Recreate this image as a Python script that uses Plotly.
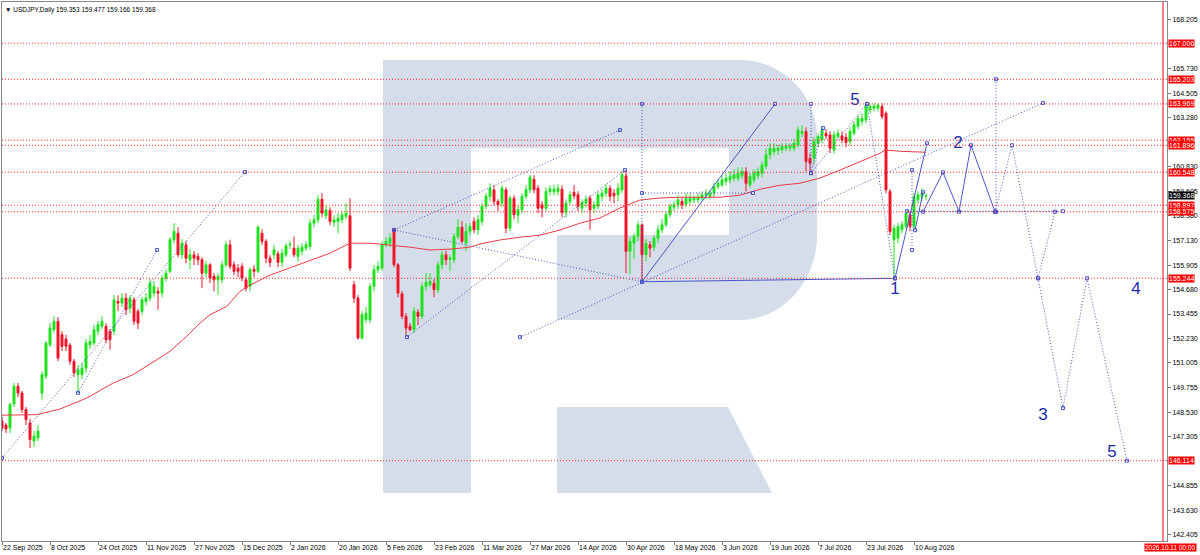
import plotly.graph_objects as go

# USDJPY daily bars: bar 0 = 22 Sep 2025 ... bar 231 = 13 Aug 2026
opens = [
    148.10, 147.90, 147.75, 148.95, 149.84, 149.50, 148.67, 148.00, 147.10, 147.25,
    149.50, 150.34, 151.92, 152.67, 153.09, 152.42, 152.20, 151.90, 151.09, 150.42,
    150.42, 150.75, 151.92, 152.00, 152.59, 152.84, 152.84, 152.59, 152.59, 154.09,
    154.00, 154.25, 153.75, 154.17, 153.59, 153.59, 154.09, 154.25, 154.50, 154.59,
    154.50, 155.25, 155.59, 157.17, 157.50, 156.42, 156.92, 156.17, 156.42, 156.34,
    156.17, 155.50, 155.92, 155.34, 155.17, 155.17, 155.92, 156.92, 155.92, 155.75,
    155.84, 155.17, 154.84, 155.70, 155.59, 157.50, 157.09, 156.25, 156.42, 156.47,
    156.04, 156.42, 156.92, 156.75, 156.34, 156.59, 156.75, 156.84, 158.00, 158.17,
    159.20, 158.37, 158.64, 158.04, 158.09, 158.17, 158.34, 158.37, 154.92, 154.25,
    152.25, 153.17, 153.17, 154.84, 155.67, 155.75, 156.92, 157.00, 157.67, 155.92,
    154.47, 153.34, 152.84, 152.67, 153.54, 153.34, 154.84, 154.92, 155.00, 154.67,
    155.92, 156.42, 156.20, 156.17, 157.34, 157.80, 157.00, 157.59, 158.09, 157.67,
    158.09, 158.84, 159.34, 159.67, 159.09, 159.00, 159.67, 157.75, 159.25, 158.40,
    158.67, 159.34, 159.67, 160.20, 159.75, 158.92, 158.75, 159.59, 159.59, 159.59,
    159.70, 158.54, 159.09, 159.54, 159.42, 158.75, 159.00, 159.25, 158.75, 158.84,
    159.34, 159.50, 159.75, 159.50, 159.42, 159.67, 160.37, 156.59, 157.00, 157.34,
    157.92, 156.42, 156.92, 156.80, 157.25, 157.67, 157.92, 158.42, 158.80, 158.92,
    159.09, 158.95, 159.09, 159.17, 159.17, 159.25, 159.40, 159.34, 159.50, 159.84,
    159.92, 160.09, 160.17, 160.25, 160.25, 160.37, 160.59, 159.92, 160.17, 160.37,
    160.50, 160.84, 161.42, 161.59, 161.64, 161.67, 161.75, 161.75, 161.75, 161.92,
    162.50, 162.59, 161.25, 161.25, 162.00, 162.17, 162.50, 162.42, 161.67, 162.34,
    162.37, 162.30, 162.09, 162.50, 162.84, 163.09, 163.17, 163.67, 163.75, 163.75,
    163.84, 163.50, 159.59, 157.17, 157.25, 157.67, 157.84, 158.42, 157.84, 159.17,
    159.34, 159.353,
]
highs = [
    148.30, 148.00, 149.00, 150.00, 150.00, 149.60, 148.80, 148.20, 147.60, 147.90,
    150.60, 152.10, 153.00, 153.34, 153.30, 152.60, 152.40, 152.00, 151.20, 150.90,
    151.00, 152.20, 152.40, 152.90, 153.10, 153.34, 153.00, 152.70, 154.40, 154.40,
    154.50, 154.50, 154.40, 154.30, 153.70, 154.30, 154.50, 155.20, 155.10, 154.80,
    155.40, 155.70, 157.30, 158.00, 157.80, 157.20, 157.10, 156.70, 156.60, 156.50,
    156.30, 156.10, 156.00, 155.50, 155.50, 156.10, 157.10, 157.17, 156.10, 155.95,
    156.00, 155.30, 155.80, 155.90, 157.90, 157.70, 157.20, 156.40, 156.90, 156.60,
    156.70, 157.00, 157.10, 157.34, 156.90, 157.00, 157.10, 158.20, 158.40, 159.40,
    159.50, 158.90, 158.80, 158.40, 158.50, 158.60, 159.00, 159.25, 155.10, 154.40,
    153.60, 153.80, 155.00, 155.90, 156.10, 157.10, 157.30, 157.50, 157.75, 156.00,
    154.60, 153.50, 153.00, 153.80, 153.70, 155.00, 155.50, 155.50, 155.20, 156.10,
    156.60, 156.60, 156.40, 157.50, 158.20, 158.10, 158.00, 158.00, 158.30, 158.40,
    159.00, 159.50, 160.00, 159.90, 159.20, 159.90, 159.80, 159.40, 159.40, 158.90,
    159.50, 159.90, 160.42, 160.40, 159.90, 159.10, 159.80, 159.90, 159.90, 159.95,
    159.90, 159.20, 159.60, 159.90, 159.60, 159.20, 159.40, 159.40, 159.10, 159.60,
    159.70, 159.95, 159.90, 159.70, 160.00, 160.60, 160.67, 157.30, 157.50, 158.10,
    158.00, 157.20, 157.10, 157.40, 157.90, 158.20, 158.60, 159.00, 159.10, 159.40,
    159.30, 159.50, 159.50, 159.40, 159.50, 159.60, 159.70, 159.65, 160.00, 160.20,
    160.40, 160.50, 160.60, 160.70, 160.80, 160.80, 160.80, 160.50, 160.70, 160.80,
    161.10, 161.75, 162.00, 162.00, 161.90, 162.00, 162.00, 162.00, 162.20, 162.84,
    162.90, 162.80, 161.50, 162.30, 162.50, 162.84, 162.70, 162.60, 162.60, 162.70,
    162.60, 162.50, 162.80, 163.10, 163.40, 163.50, 164.00, 164.00, 164.00, 164.00,
    164.00, 163.60, 159.70, 157.90, 158.00, 158.10, 158.67, 158.60, 159.50, 159.60,
    159.75, 159.477,
]
lows = [
    147.60, 147.50, 147.50, 148.80, 149.30, 148.50, 147.90, 146.75, 146.80, 147.10,
    149.17, 150.20, 151.80, 152.50, 151.10, 151.60, 151.60, 150.90, 150.30, 149.50,
    150.20, 150.50, 151.70, 151.90, 152.40, 152.70, 152.00, 151.67, 152.40, 153.60,
    153.80, 153.40, 153.50, 152.90, 152.70, 153.40, 153.90, 154.10, 154.30, 153.67,
    154.30, 155.10, 155.50, 157.00, 156.30, 156.20, 156.00, 155.70, 155.90, 155.90,
    154.75, 155.30, 155.00, 154.59, 154.42, 155.00, 155.80, 155.70, 155.40, 155.30,
    155.10, 154.59, 154.60, 155.30, 155.50, 156.90, 156.00, 155.80, 156.20, 155.80,
    155.80, 156.30, 156.70, 156.30, 156.10, 156.40, 156.60, 156.70, 157.80, 158.00,
    158.30, 158.20, 157.90, 157.80, 157.50, 158.00, 158.20, 155.60, 154.00, 152.17,
    152.17, 153.00, 153.00, 154.60, 155.50, 155.60, 156.80, 156.80, 155.80, 154.30,
    153.20, 152.34, 152.59, 152.50, 152.90, 153.20, 154.60, 154.80, 154.30, 154.50,
    155.70, 155.90, 155.60, 156.00, 157.20, 157.00, 156.60, 157.40, 157.50, 157.40,
    157.90, 158.70, 159.10, 158.90, 158.60, 158.80, 157.50, 157.60, 158.20, 158.00,
    158.50, 159.20, 159.50, 159.50, 158.50, 158.30, 158.60, 159.40, 159.40, 159.40,
    158.30, 158.30, 158.90, 159.20, 158.60, 158.50, 158.80, 157.67, 158.50, 158.70,
    159.10, 159.30, 159.10, 159.00, 159.10, 159.50, 155.50, 155.45, 156.20, 157.10,
    155.20, 156.10, 156.30, 156.60, 157.00, 157.50, 157.80, 158.30, 158.60, 158.70,
    158.70, 158.80, 158.90, 159.00, 159.00, 159.10, 159.20, 159.20, 159.30, 159.70,
    159.80, 159.90, 160.00, 160.10, 160.10, 160.20, 159.59, 159.80, 160.00, 160.20,
    160.30, 160.70, 161.20, 161.40, 161.40, 161.50, 161.60, 161.60, 161.60, 161.80,
    162.30, 160.59, 160.60, 161.00, 161.80, 162.00, 162.20, 161.50, 161.50, 162.20,
    162.00, 161.80, 161.90, 162.40, 162.70, 162.90, 163.00, 163.50, 163.60, 163.60,
    163.20, 159.50, 157.40, 155.24, 157.00, 157.50, 157.70, 157.60, 157.70, 159.00,
    159.10, 159.166,
]
closes = [
    147.75, 147.70, 148.92, 149.84, 149.50, 148.67, 148.17, 147.17, 147.34, 147.59,
    150.42, 152.00, 152.75, 153.09, 151.25, 151.84, 151.84, 151.09, 150.50, 150.67,
    150.75, 152.00, 152.09, 152.67, 152.92, 153.09, 152.17, 152.17, 154.17, 154.00,
    154.25, 153.67, 154.25, 153.09, 153.00, 154.17, 154.25, 155.00, 154.84, 154.50,
    155.25, 155.50, 157.17, 157.59, 156.42, 157.00, 156.25, 156.42, 156.25, 156.17,
    155.50, 155.92, 155.25, 155.17, 155.34, 155.92, 156.92, 155.84, 155.59, 155.59,
    155.25, 154.75, 155.67, 155.59, 157.80, 157.09, 156.25, 156.04, 156.67, 156.04,
    156.50, 156.87, 156.95, 156.42, 156.75, 156.80, 156.92, 158.00, 158.17, 159.20,
    158.50, 158.67, 158.09, 158.17, 158.25, 158.42, 158.50, 155.75, 154.25, 152.25,
    153.42, 153.50, 154.84, 155.67, 155.84, 156.92, 157.09, 157.25, 155.92, 154.50,
    153.34, 152.75, 152.67, 153.59, 153.34, 154.84, 155.04, 155.09, 154.67, 155.92,
    156.42, 156.17, 156.25, 157.34, 157.80, 157.09, 157.59, 157.84, 157.67, 158.17,
    158.84, 159.34, 159.75, 159.09, 158.92, 159.75, 157.75, 159.25, 158.42, 158.67,
    159.34, 159.67, 160.30, 159.67, 158.75, 158.75, 159.59, 159.72, 159.70, 159.75,
    158.54, 159.00, 159.42, 159.37, 158.84, 159.04, 159.20, 158.67, 158.92, 159.42,
    159.50, 159.75, 159.34, 159.37, 159.75, 160.42, 156.59, 157.09, 157.34, 157.92,
    156.42, 157.00, 156.75, 157.25, 157.67, 157.92, 158.42, 158.84, 158.92, 159.17,
    158.92, 159.25, 159.25, 159.25, 159.30, 159.42, 159.50, 159.50, 159.84, 160.00,
    160.17, 160.25, 160.34, 160.42, 160.50, 160.59, 160.00, 160.34, 160.50, 160.59,
    160.92, 161.42, 161.75, 161.75, 161.75, 161.84, 161.84, 161.84, 162.00, 162.67,
    162.59, 161.09, 161.00, 162.09, 162.34, 162.67, 162.37, 161.75, 162.42, 162.50,
    162.17, 162.04, 162.59, 162.92, 163.25, 163.25, 163.92, 163.84, 163.87, 163.92,
    163.34, 159.67, 157.59, 157.75, 157.84, 157.92, 158.50, 157.84, 159.34, 159.42,
    159.50, 159.368,
]

# red moving average at a few bars
ma_bar = [0, 8.7, 14.5, 21.2, 27.8, 32.8, 38.7, 42, 46.2, 49.5, 52, 56.2, 59.5, 62, 67,
          72, 77, 82, 87, 92, 97, 102, 107, 112, 117, 119.5, 124.5, 129.5, 134.5, 139.5,
          144.5, 149.5, 154.5, 159.5, 164.5, 169.5, 179.5, 184.5, 189.5, 194.5, 199.5,
          204.5, 209.5, 214.5, 219.5, 220.75, 224.5, 231]
ma_value = [148.39, 148.42, 148.70, 149.25, 150.00, 150.42, 151.17, 151.59, 152.34, 153.00,
            153.42, 153.84, 154.59, 154.90, 155.40, 155.76, 156.16, 156.50, 157.00, 157.00,
            156.90, 156.80, 156.66, 156.70, 156.80, 156.96, 157.16, 157.30, 157.40, 157.66,
            158.00, 158.26, 158.76, 159.16, 159.26, 159.30, 159.30, 159.40, 159.70, 159.90,
            160.00, 160.26, 160.66, 161.06, 161.50, 161.66, 161.60, 161.55]

# horizontal levels
levels = [167.006, 165.203, 163.969, 162.155, 161.896, 160.548, 158.897, 158.575, 155.244, 146.114]
last_price = 159.368
title_text = "USDJPY,Daily 159.353 159.477 159.166 159.368"

# time axis: a label every 12 bars
tick_dates = ["22 Sep 2025", "8 Oct 2025", "24 Oct 2025", "11 Nov 2025", "27 Nov 2025",
              "15 Dec 2025", "2 Jan 2026", "20 Jan 2026", "5 Feb 2026", "23 Feb 2026",
              "11 Mar 2026", "27 Mar 2026", "14 Apr 2026", "30 Apr 2026", "18 May 2026",
              "3 Jun 2026", "19 Jun 2026", "7 Jul 2026", "23 Jul 2026", "10 Aug 2026"]
tick_step = 12

# price scale (the ones hidden under level labels are left out)
price_ticks = [168.205, 165.730, 164.505, 163.280, 160.830, 159.605,
               158.380, 157.130, 155.905, 154.680, 153.455, 152.230, 151.005, 149.755,
               148.530, 147.305, 144.855, 143.630, 142.405]

# drawn objects, vertices as (bar, price)
solid_lines = [
    [(160, 155.07), (193.25, 163.97)],
    [(160, 155.07), (223.25, 155.24)],
    [(223.25, 155.24), (231.25, 162.0)],
    [(228.25, 157.65), (230.25, 159.55)],
    [(230.25, 158.575), (235.25, 160.548), (239.25, 158.575), (242.25, 161.9), (248.25, 158.575)],
]
dotted_lines = [
    [(0, 146.25), (60.75, 160.56)],
    [(19, 149.51), (38.75, 156.66)],
    [(98, 157.66), (154.5, 162.66)],
    [(98, 157.66), (160, 155.07)],
    [(101.25, 152.3), (155.75, 160.66)],
    [(129.5, 152.3), (260.25, 164.02)],
    [(160, 163.97), (160, 155.07)],
    [(160, 159.51), (187.75, 159.51)],
    [(202.25, 163.97), (202.25, 160.51)],
    [(202.25, 160.51), (205.25, 162.76)],
    [(202.25, 160.51), (216.25, 163.97)],
    [(216.25, 163.97), (223.25, 155.24)],
    [(227.5, 160.66), (227.5, 156.66)],
    [(226.25, 158.6), (265.25, 158.6)],
    [(248.5, 165.203), (248.5, 158.575)],
    [(248.25, 158.575), (252.5, 161.9), (259, 155.244), (265.25, 148.75), (271.25, 155.244), (281.25, 146.114)],
    [(259, 155.244), (263.25, 158.575)],
]

wave_text = ["5", "1", "2", "3", "4", "5"]
wave_bar = [213.25, 223.25, 239, 260.25, 283.5, 277.5]
wave_price = [164.12, 154.66, 162.0, 148.35, 154.66, 146.5]

end_line_bar = 290.25
end_line_label = "2026.10.11 00:00"

# ---------------------------------------------------------------
W, H = 1200, 555
M = dict(l=2, r=33, t=2, b=14)
PW = W - M["l"] - M["r"]
PH = H - M["t"] - M["b"]
FONT = "Liberation Sans, Arial, sans-serif"
BLUE = "rgb(72,86,204)"


def pp(x, y):
    # page pixel -> paper coords (used for the watermark only)
    return (x - M["l"]) / PW, 1 - (y - M["t"]) / PH


def svg(points):
    out = []
    for cmd, pts in points:
        coords = " ".join("%.4f,%.4f" % pp(*p) for p in pts)
        out.append(cmd + " " + coords)
    return " ".join(out) + " Z"


fig = go.Figure()

# logo watermark
r_body = svg([
    ("M", [(383, 60)]), ("L", [(740, 60)]),
    ("C", [(782, 60), (817, 95), (817, 137)]),
    ("L", [(817, 235)]),
    ("C", [(817, 282), (782, 320), (740, 320)]),
    ("L", [(557, 320)]), ("L", [(557, 235)]), ("L", [(729, 235)]), ("L", [(729, 148)]),
    ("L", [(471, 148)]), ("L", [(471, 493)]), ("L", [(383, 493)]),
])
r_leg = svg([("M", [(557, 407)]), ("L", [(728, 407)]), ("L", [(772, 493)]), ("L", [(557, 493)])])
for p in (r_body, r_leg):
    fig.add_shape(type="path", path=p, xref="paper", yref="paper", layer="below",
                  fillcolor="#d4dde9", line=dict(width=0))

fig.add_trace(go.Candlestick(
    x=list(range(len(closes))), open=opens, high=highs, low=lows, close=closes,
    increasing=dict(line=dict(color="#1de21d", width=1), fillcolor="#1de21d"),
    decreasing=dict(line=dict(color="#f01428", width=1), fillcolor="#f01428"),
    whiskerwidth=0, hoverinfo="skip", showlegend=False,
))

fig.add_trace(go.Scatter(x=ma_bar, y=ma_value, mode="lines",
                         line=dict(color="rgb(236,60,70)", width=1), hoverinfo="skip",
                         showlegend=False))

for lines, dash in ((dotted_lines, "1px,2px"), (solid_lines, "solid")):
    for seg in lines:
        fig.add_trace(go.Scatter(
            x=[p[0] for p in seg], y=[p[1] for p in seg], mode="lines+markers",
            line=dict(color=BLUE, width=1, dash=dash),
            marker=dict(symbol="square-open", size=3, color=BLUE, line=dict(width=1)),
            hoverinfo="skip", showlegend=False, cliponaxis=True,
        ))

fig.add_trace(go.Scatter(x=wave_bar, y=wave_price, mode="text", text=wave_text,
                         textfont=dict(family=FONT, size=17, color="#1e2aa8"),
                         hoverinfo="skip", showlegend=False))

# levels + price labels
for lv in levels:
    fig.add_shape(type="line", xref="paper", x0=0, x1=1, yref="y", y0=lv, y1=lv,
                  line=dict(color="#ff2a2a", width=1, dash="1px,2px"))
    fig.add_annotation(x=1, xref="paper", y=lv, yref="y", xanchor="left", xshift=1,
                       text="%.3f" % lv, showarrow=False, bgcolor="#ff0000", borderpad=0,
                       font=dict(family=FONT, size=7, color="white"))
fig.add_annotation(x=1, xref="paper", y=last_price, yref="y", xanchor="left", xshift=1,
                   text="%.3f" % last_price, showarrow=False, bgcolor="#000000", borderpad=0,
                   font=dict(family=FONT, size=7, color="white"))

fig.add_shape(type="line", x0=end_line_bar, x1=end_line_bar, yref="paper", y0=0, y1=1,
              line=dict(color="#ff0000", width=1))
fig.add_annotation(x=pp(1197, 0)[0], xref="paper", xanchor="right", y=0, yref="paper",
                   yanchor="top", yshift=-2, text=end_line_label, showarrow=False,
                   bgcolor="#ff0000", borderpad=0,
                   font=dict(family=FONT, size=6.5, color="white"))

fig.add_annotation(x=pp(3, 0)[0], xref="paper", y=1, yref="paper", xanchor="left",
                   yanchor="top", yshift=-2, text="\u25bc " + title_text, showarrow=False,
                   font=dict(family=FONT, size=6.5, color="black"))

fig.update_layout(
    width=W, height=H, margin=M,
    paper_bgcolor="white", plot_bgcolor="rgba(0,0,0,0)",
    showlegend=False,
    xaxis=dict(
        range=[0, 291.25], rangeslider=dict(visible=False),
        tickvals=[k * tick_step for k in range(len(tick_dates))], ticktext=tick_dates,
        ticks="outside", ticklen=3, tickcolor="#777", ticklabelposition="outside right",
        tickangle=0, tickfont=dict(family=FONT, size=7, color="black"),
        showgrid=False, zeroline=False, showline=True, mirror=True, linecolor="#888",
    ),
    yaxis=dict(
        side="right", range=[142.094, 169.071],
        tickvals=price_ticks, ticktext=["%.3f" % v for v in price_ticks],
        ticks="outside", ticklen=3, tickcolor="#777",
        tickfont=dict(family=FONT, size=7, color="black"),
        showgrid=False, zeroline=False, showline=True, mirror=True, linecolor="#888",
    ),
)

fig.write_html("out.html", config={"displayModeBar": False},
               post_script="document.body.style.margin='0';")
